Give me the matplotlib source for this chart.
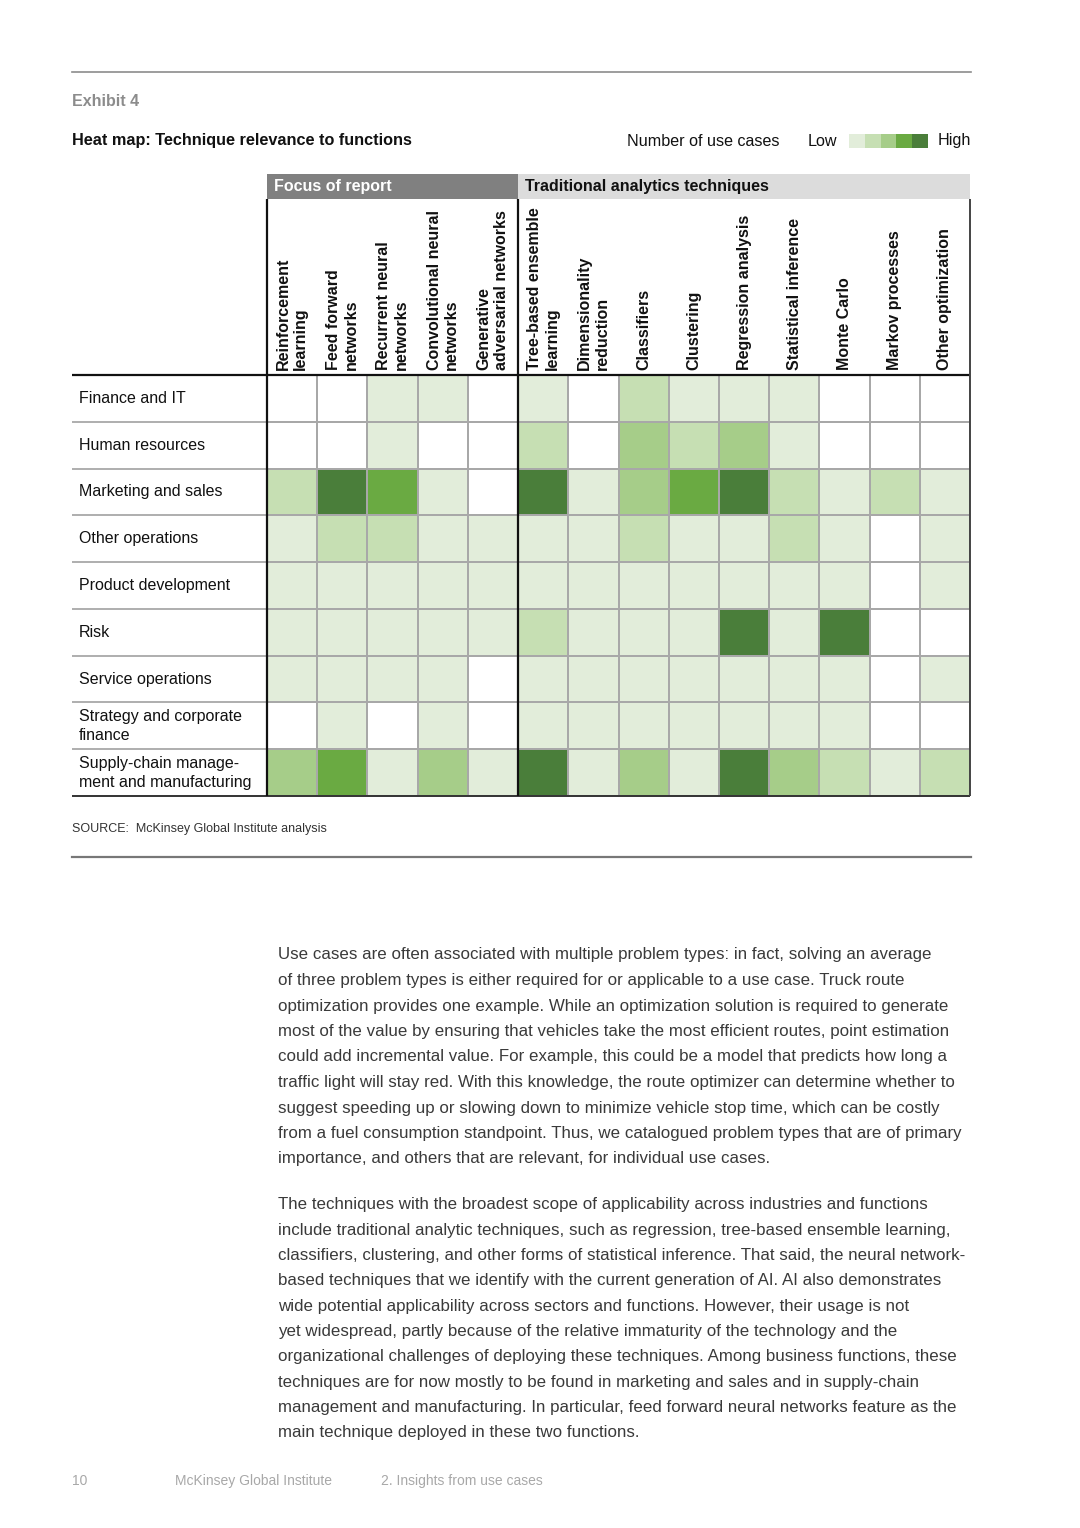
import numpy as np
import matplotlib
matplotlib.use("Agg")
import matplotlib.pyplot as plt
from matplotlib.colors import ListedColormap
from matplotlib.patches import Rectangle

plt.rcParams['font.family'] = ['Liberation Sans', 'DejaVu Sans']

# Data
functions = ["Finance and IT", "Human resources", "Marketing and sales",
             "Other operations", "Product development", "Risk",
             "Service operations", "Strategy and corporate\nfinance",
             "Supply-chain manage-\nment and manufacturing"]
techniques = ["Reinforcement\nlearning", "Feed forward\nnetworks",
              "Recurrent neural\nnetworks", "Convolutional neural\nnetworks",
              "Generative\nadversarial networks", "Tree-based ensemble\nlearning",
              "Dimensionality\nreduction", "Classifiers", "Clustering",
              "Regression analysis", "Statistical inference", "Monte Carlo",
              "Markov processes", "Other optimization"]
# 0 = none, 1..5 = low..high number of use cases
levels = np.array([
    [0, 0, 1, 1, 0, 1, 0, 2, 1, 1, 1, 0, 0, 0],
    [0, 0, 1, 0, 0, 2, 0, 3, 2, 3, 1, 0, 0, 0],
    [2, 5, 4, 1, 0, 5, 1, 3, 4, 5, 2, 1, 2, 1],
    [1, 2, 2, 1, 1, 1, 1, 2, 1, 1, 2, 1, 0, 1],
    [1, 1, 1, 1, 1, 1, 1, 1, 1, 1, 1, 1, 0, 1],
    [1, 1, 1, 1, 1, 2, 1, 1, 1, 5, 1, 5, 0, 0],
    [1, 1, 1, 1, 0, 1, 1, 1, 1, 1, 1, 1, 0, 1],
    [0, 1, 0, 1, 0, 1, 1, 1, 1, 1, 1, 1, 0, 0],
    [3, 4, 1, 3, 1, 5, 1, 3, 1, 5, 3, 2, 1, 2],
])
groups = ["Focus of report", "Traditional analytics techniques"]
group_span = [5, 9]

para1 = [
    "Use cases are often associated with multiple problem types: in fact, solving an average",
    "of three problem types is either required for or applicable to a use case. Truck route",
    "optimization provides one example. While an optimization solution is required to generate",
    "most of the value by ensuring that vehicles take the most efficient routes, point estimation",
    "could add incremental value. For example, this could be a model that predicts how long a",
    "traffic light will stay red. With this knowledge, the route optimizer can determine whether to",
    "suggest speeding up or slowing down to minimize vehicle stop time, which can be costly",
    "from a fuel consumption standpoint. Thus, we catalogued problem types that are of primary",
    "importance, and others that are relevant, for individual use cases.",
]
para2 = [
    "The techniques with the broadest scope of applicability across industries and functions",
    "include traditional analytic techniques, such as regression, tree-based ensemble learning,",
    "classifiers, clustering, and other forms of statistical inference. That said, the neural network-",
    "based techniques that we identify with the current generation of AI. AI also demonstrates",
    "wide potential applicability across sectors and functions. However, their usage is not",
    "yet widespread, partly because of the relative immaturity of the technology and the",
    "organizational challenges of deploying these techniques. Among business functions, these",
    "techniques are for now mostly to be found in marketing and sales and in supply-chain",
    "management and manufacturing. In particular, feed forward neural networks feature as the",
    "main technique deployed in these two functions.",
]

W, H = 1080, 1528
fig = plt.figure(figsize=(W / 100, H / 100), dpi=100)
fig.patch.set_facecolor("white")


def fx(px):
    return px / W


def fy(py):
    return 1 - py / H


colors = ["#FFFFFF", "#E2EDDA", "#C6DFB3", "#A6CD89", "#6AAA42", "#4A7E3A"]
cmap = ListedColormap(colors)

# heat map axes
L, R, T, B = 267, 970, 375, 796
ax = fig.add_axes([fx(L), fy(B), fx(R - L), (B - T) / H])
nrow, ncol = levels.shape
ax.pcolormesh(np.arange(ncol + 1), np.arange(nrow + 1), levels, cmap=cmap,
              vmin=-0.5, vmax=5.5, edgecolors="#A8A8A8", linewidth=1.3)
ax.set_xlim(0, ncol)
ax.set_ylim(nrow, 0)
ax.set_axis_off()

colw = (R - L) / ncol
rowh = (B - T) / nrow
x_left = (72 - L) / colw
y_head = -(T - 199) / rowh
y_band = -(T - 174) / rowh

# row labels and separators
for i, f in enumerate(functions):
    ax.text(x_left + 7 / colw, i + 0.5, f, ha="left", va="center",
            fontsize=11.5, color="#111111", linespacing=1.35)
ax.hlines(np.arange(1, nrow), x_left, 0, color="#A8A8A8", lw=1.3, clip_on=False)
ax.hlines(0, x_left, ncol, color="#111111", lw=1.6, clip_on=False)
ax.hlines(nrow, x_left, ncol, color="#333333", lw=1.4, clip_on=False)
ax.vlines([0, 5], y_head, nrow, color="#111111", lw=1.6, clip_on=False)
ax.vlines(ncol, y_head, nrow, color="#444444", lw=1.4, clip_on=False)

# group header bands
start = 0
band_cols = ["#808080", "#DCDCDC"]
band_txt = ["white", "#111111"]
for g, span, bc, tc in zip(groups, group_span, band_cols, band_txt):
    ax.add_patch(Rectangle((start, y_band), span, y_head - y_band, facecolor=bc,
                           edgecolor="none", clip_on=False))
    ax.text(start + 7 / colw, (y_band + y_head) / 2, g, ha="left", va="center",
            fontsize=11.5, fontweight="bold", color=tc)
    start += span

# column labels
for j, t in enumerate(techniques):
    ax.text(j + 0.5, -5 / rowh, t, rotation=90, ha="center", va="bottom",
            multialignment="left", fontsize=11.5, fontweight="bold",
            color="#111111", linespacing=1.2)

# titles
fig.add_artist(plt.Line2D([fx(72), fx(971)], [fy(72), fy(72)], color="#8C8C8C", lw=1.2))
fig.text(fx(72), fy(102), "Exhibit 4", fontsize=11.5, fontweight="bold",
         color="#8C8C8C", va="center")
fig.text(fx(72), fy(141), "Heat map: Technique relevance to functions",
         fontsize=11.7, fontweight="bold", color="#111111", va="center")

# legend
fig.text(fx(627), fy(141), "Number of use cases", fontsize=11.6, color="#111111", va="center")
fig.text(fx(808), fy(141), "Low", fontsize=11.6, color="#111111", va="center")
fig.text(fx(938), fy(141), "High", fontsize=11.6, color="#111111", va="center")
lax = fig.add_axes([fx(849), fy(148), fx(928 - 849), 14 / H])
lax.pcolormesh(np.arange(6), [0, 1], np.arange(1, 6)[None, :], cmap=cmap,
               vmin=-0.5, vmax=5.5)
lax.set_axis_off()

# source and rule
fig.text(fx(72), fy(829), "SOURCE:  McKinsey Global Institute analysis",
         fontsize=9.0, color="#333333", va="center")
fig.add_artist(plt.Line2D([fx(72), fx(971)], [fy(857), fy(857)], color="#777777", lw=1.6))

# body text
for k, line in enumerate(para1):
    fig.text(fx(278), fy(955 + k * 25.5), line, fontsize=12.2, color="#3A3A3A",
             va="center")
for k, line in enumerate(para2):
    fig.text(fx(278), fy(1205 + k * 25.3), line, fontsize=12.2, color="#3A3A3A",
             va="center")

# footer
for x, s in [(72, "10"), (175, "McKinsey Global Institute"), (381, "2. Insights from use cases")]:
    fig.text(fx(x), fy(1481), s, fontsize=10.0, color="#A8A8A8", va="center")

fig.savefig("out.png", dpi=100, facecolor="white")
